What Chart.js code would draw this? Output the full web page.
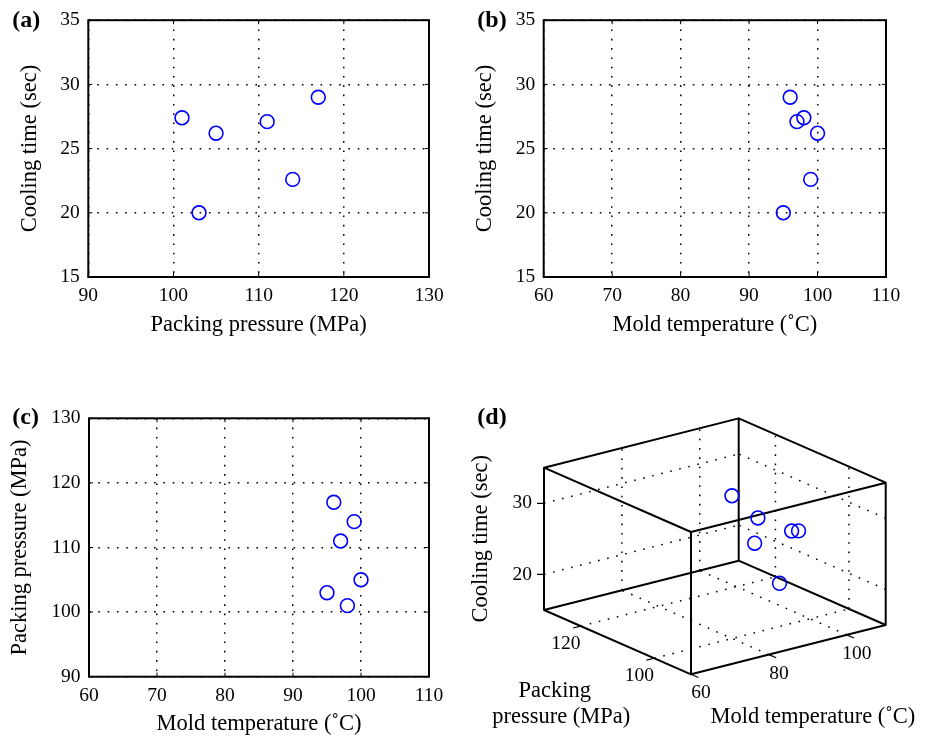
<!DOCTYPE html>
<html>
<head>
<meta charset="utf-8">
<script src="https://cdn.jsdelivr.net/npm/chart.js@4.4.0/dist/chart.umd.min.js"></script>
<style>
  body { margin: 0; background: #fff; }
  #fig { position: relative; width: 931px; height: 739px; overflow: hidden; }
  canvas { position: absolute; }
</style>
</head>
<body>
<div id="fig">
  <canvas id="chartA" width="465" height="340" style="left:0;top:0"></canvas>
  <canvas id="chartB" width="466" height="340" style="left:465px;top:0"></canvas>
  <canvas id="chartC" width="465" height="344" style="left:0;top:395px"></canvas>
  <canvas id="chartD" width="466" height="344" style="left:465px;top:395px"></canvas>
</div>
<script>
// measured runs
var packingPressure = [101, 105, 103, 111, 114, 117];
var moldTemp = [98, 100, 95, 97, 99, 96];
var coolingTime = [27.4, 26.2, 20.0, 27.1, 22.6, 29.0];

// axis ranges [min, max, step]
var pressureAxis = [90, 130, 10];
var tempAxis = [60, 110, 10];
var coolAxis = [15, 35, 5];

// 3d panel ticks
var pressureTicks3d = [100, 120];
var tempTicks3d = [60, 80, 100];
var coolTicks3d = [20, 30];

var SERIF = '"Liberation Serif", "Times New Roman", serif';
Chart.defaults.color = '#000';
Chart.defaults.font.family = SERIF;

var tickFont = { family: SERIF, size: 19.5 };
var titleFont = { family: SERIF, size: 22.5 };
var blue = '#0000ff';
var dots = [1.6, 7.7];

var framePlugin = {
    id: 'frame',
    afterDatasetsDraw: function (chart, args, opts) {
        var a = chart.chartArea, ctx = chart.ctx;
        var sx = chart.scales.x, sy = chart.scales.y;
        ctx.save();
        ctx.strokeStyle = '#000';
        ctx.lineWidth = 1;
        ctx.beginPath();
        sx.ticks.forEach(function (t) {
            var px = sx.getPixelForValue(t.value);
            ctx.moveTo(px, a.bottom); ctx.lineTo(px, a.bottom - 4);
            ctx.moveTo(px, a.top); ctx.lineTo(px, a.top + 4);
        });
        sy.ticks.forEach(function (t) {
            var py = sy.getPixelForValue(t.value);
            ctx.moveTo(a.left, py); ctx.lineTo(a.left + 4, py);
            ctx.moveTo(a.right, py); ctx.lineTo(a.right - 4, py);
        });
        ctx.stroke();
        ctx.lineWidth = 2;
        ctx.strokeRect(a.left, a.top, a.right - a.left, a.bottom - a.top);
        ctx.fillStyle = '#000';
        ctx.font = 'bold 24px ' + SERIF;
        ctx.textBaseline = 'alphabetic';
        ctx.fillText(opts.tag, opts.tagX, opts.tagY);
        ctx.restore();
    }
};

function scatter2d(id, xs, ys, xAxis, yAxis, xTitle, yTitle, lay) {
    var pts = xs.map(function (v, i) { return { x: v, y: ys[i] }; });
    new Chart(document.getElementById(id), {
        type: 'scatter',
        data: {
            datasets: [{
                data: pts,
                pointStyle: 'circle',
                pointRadius: 6.9,
                pointBorderWidth: 1.6,
                borderColor: blue,
                backgroundColor: 'rgba(0,0,0,0)'
            }]
        },
        options: {
            responsive: false,
            animation: false,
            events: [],
            layout: { autoPadding: false, padding: { top: lay.top, right: lay.right, left: 0, bottom: 0 } },
            plugins: {
                legend: { display: false },
                tooltip: { enabled: false },
                frame: { tag: lay.tag, tagX: 12.3, tagY: lay.tagY }
            },
            scales: {
                x: {
                    type: 'linear', min: xAxis[0], max: xAxis[1],
                    afterFit: function (s) { s.height = lay.xh; },
                    ticks: { stepSize: xAxis[2], padding: 7, font: tickFont, maxRotation: 0, color: '#000' },
                    grid: { color: '#000', lineWidth: 1.5, drawTicks: false },
                    border: { display: false, dash: dots },
                    title: { display: true, text: xTitle, font: titleFont, color: '#000', padding: { top: 0, bottom: 1 } }
                },
                y: {
                    type: 'linear', min: yAxis[0], max: yAxis[1],
                    afterFit: function (s) { s.width = lay.yw; },
                    ticks: { stepSize: yAxis[2], padding: 8.5, font: tickFont, color: '#000' },
                    grid: { color: '#000', lineWidth: 1.5, drawTicks: false },
                    border: { display: false, dash: dots },
                    title: { display: true, text: yTitle, font: titleFont, color: '#000', padding: { top: lay.ytp, bottom: 0 } }
                }
            }
        },
        plugins: [framePlugin]
    });
}

scatter2d('chartA', packingPressure, coolingTime, pressureAxis, coolAxis,
    'Packing pressure (MPa)', 'Cooling time (sec)',
    { top: 19, right: 36, xh: 63, yw: 88.3, ytp: 16.5, tag: '(a)', tagY: 27.4 });
scatter2d('chartB', moldTemp, coolingTime, tempAxis, coolAxis,
    'Mold temperature (\u02DAC)', 'Cooling time (sec)',
    { top: 19, right: 45, xh: 63, yw: 78.7, ytp: 6.6, tag: '(b)', tagY: 27.4 });
scatter2d('chartC', moldTemp, packingPressure, tempAxis, pressureAxis,
    'Mold temperature (\u02DAC)', 'Packing pressure (MPa)',
    { top: 23.3, right: 36, xh: 62.3, yw: 89, ytp: 6.6, tag: '(c)', tagY: 29 });

// ---- (d) 3d view, orthographic projection onto a hidden linear x/y pair
var view3d = { x: [-226, 240], y: [-64.7, 279.3] };
var axisVec = { T: [194.7, 49.3], P: [-147, 64.3], C: [0, 142.3] };

function proj(t, p, c) {
    var ft = (t - tempAxis[0]) / (tempAxis[1] - tempAxis[0]);
    var fp = (p - pressureAxis[0]) / (pressureAxis[1] - pressureAxis[0]);
    var fc = (c - coolAxis[0]) / (coolAxis[1] - coolAxis[0]);
    return {
        x: ft * axisVec.T[0] + fp * axisVec.P[0] + fc * axisVec.C[0],
        y: ft * axisVec.T[1] + fp * axisVec.P[1] + fc * axisVec.C[1]
    };
}

function segments(list) {
    var out = [];
    list.forEach(function (s) {
        out.push(proj(s[0][0], s[0][1], s[0][2]), proj(s[1][0], s[1][1], s[1][2]), { x: null, y: null });
    });
    return out;
}

var T0 = tempAxis[0], T1 = tempAxis[1], P0 = pressureAxis[0], P1 = pressureAxis[1], C0 = coolAxis[0], C1 = coolAxis[1];

var boxEdges = [];
[P0, P1].forEach(function (p) { [C0, C1].forEach(function (c) { boxEdges.push([[T0, p, c], [T1, p, c]]); }); });
[T0, T1].forEach(function (t) { [C0, C1].forEach(function (c) { boxEdges.push([[t, P0, c], [t, P1, c]]); }); });
[T0, T1].forEach(function (t) { [P0, P1].forEach(function (p) { boxEdges.push([[t, p, C0], [t, p, C1]]); }); });

var gridEdges = [];
tempTicks3d.filter(function (t) { return t > T0 && t < T1; }).forEach(function (t) {
    gridEdges.push([[t, P0, C0], [t, P1, C0]]);
    gridEdges.push([[t, P1, C0], [t, P1, C1]]);
});
pressureTicks3d.forEach(function (p) {
    gridEdges.push([[T0, p, C0], [T1, p, C0]]);
    gridEdges.push([[T1, p, C0], [T1, p, C1]]);
});
coolTicks3d.forEach(function (c) {
    gridEdges.push([[T0, P1, c], [T1, P1, c]]);
    gridEdges.push([[T1, P0, c], [T1, P1, c]]);
});

function unit(v) { var l = Math.sqrt(v[0] * v[0] + v[1] * v[1]); return [v[0] / l, v[1] / l]; }
var tickMarks = [];
var dirT = unit([-axisVec.P[0], -axisVec.P[1]]);
var dirP = unit([-axisVec.T[0], -axisVec.T[1]]);
function tickSeg(p0, dir, len) {
    tickMarks.push(p0, { x: p0.x + dir[0] * len, y: p0.y + dir[1] * len }, { x: null, y: null });
}
tempTicks3d.forEach(function (t) { tickSeg(proj(t, P0, C0), dirT, 8); });
pressureTicks3d.forEach(function (p) { tickSeg(proj(T0, p, C0), dirP, 8); });
coolTicks3d.forEach(function (c) { tickSeg(proj(T0, P1, c), [-1, 0], 7); });

var points3d = moldTemp.map(function (t, i) { return proj(t, packingPressure[i], coolingTime[i]); });

var labels3d = {
    id: 'labels3d',
    afterDraw: function (chart) {
        var ctx = chart.ctx, sx = chart.scales.x, sy = chart.scales.y;
        function px(pt) { return [sx.getPixelForValue(pt.x), sy.getPixelForValue(pt.y)]; }
        ctx.save();
        ctx.fillStyle = '#000';
        ctx.font = '19.5px ' + SERIF;
        ctx.textBaseline = 'middle';
        ctx.textAlign = 'right';
        coolTicks3d.forEach(function (c) {
            var q = px(proj(T0, P1, c));
            ctx.fillText(String(c), q[0] - 12, q[1]);
        });
        ctx.textAlign = 'center';
        pressureTicks3d.forEach(function (p) {
            var q = px(proj(T0, p, C0));
            ctx.fillText(String(p), q[0] - 15, q[1] + 18);
        });
        tempTicks3d.forEach(function (t) {
            var q = px(proj(t, P0, C0));
            ctx.fillText(String(t), q[0] + 10, q[1] + 19);
        });
        ctx.font = '22.5px ' + SERIF;
        var qp = px(proj(T0, (P0 + P1) / 2, C0));
        ctx.fillText('Packing', qp[0] - 62.8, qp[1] + 48.5);
        ctx.fillText('pressure (MPa)', qp[0] - 56.3, qp[1] + 75.2);
        var qt = px(proj((T0 + T1) / 2, P0, C0));
        ctx.fillText('Mold temperature (\u02DAC)', qt[0] + 24.5, qt[1] + 67.8);
        var qc = px(proj(T0, P1, (C0 + C1) / 2));
        ctx.save();
        ctx.translate(qc[0] - 63.3, qc[1]);
        ctx.rotate(-Math.PI / 2);
        ctx.fillText('Cooling time (sec)', 0, 0);
        ctx.restore();
        ctx.textAlign = 'left';
        ctx.textBaseline = 'alphabetic';
        ctx.font = 'bold 24px ' + SERIF;
        ctx.fillText('(d)', 12.3, 29);
        ctx.restore();
    }
};

new Chart(document.getElementById('chartD'), {
    type: 'scatter',
    data: {
        datasets: [
            { data: points3d, order: 0, pointStyle: 'circle', pointRadius: 6.9, pointBorderWidth: 1.6,
              borderColor: blue, backgroundColor: 'rgba(0,0,0,0)' },
            { data: segments(boxEdges), order: 1, showLine: true, spanGaps: false, pointRadius: 0,
              borderColor: '#000', borderWidth: 2, borderCapStyle: 'round' },
            { data: tickMarks, order: 2, showLine: true, spanGaps: false, pointRadius: 0,
              borderColor: '#000', borderWidth: 1.2 },
            { data: segments(gridEdges), order: 3, showLine: true, spanGaps: false, pointRadius: 0,
              borderColor: '#000', borderWidth: 1.5, borderDash: dots }
        ]
    },
    options: {
        responsive: false,
        animation: false,
        events: [],
        layout: { autoPadding: false, padding: 0 },
        plugins: { legend: { display: false }, tooltip: { enabled: false } },
        scales: {
            x: { type: 'linear', display: false, min: view3d.x[0], max: view3d.x[1] },
            y: { type: 'linear', display: false, min: view3d.y[0], max: view3d.y[1] }
        }
    },
    plugins: [labels3d]
});
</script>
</body>
</html>
